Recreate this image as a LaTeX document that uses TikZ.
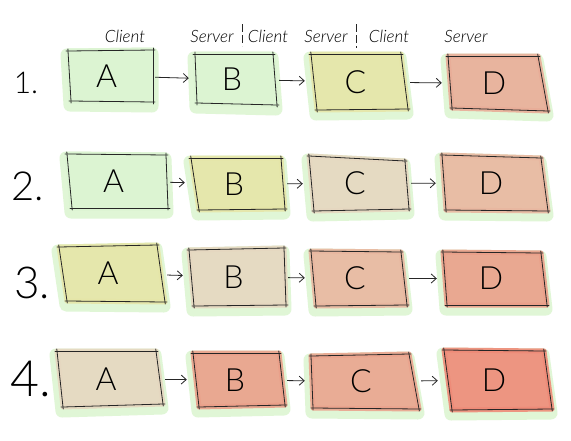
\documentclass[tikz,border=0pt]{standalone}
\usepackage{fontspec}
\newfontfamily\thinfont{Lato Light}
\usetikzlibrary{arrows.meta,fit,calc}
\definecolor{cgreen}{HTML}{DCF4D2}
\definecolor{cyellow}{HTML}{E6E6A8}
\definecolor{cbeige}{HTML}{E6D7C0}
\definecolor{csalmonl}{HTML}{E9B7A0}
\definecolor{csalmonA}{HTML}{E9AD98}
\definecolor{csalmon}{HTML}{EBA08A}
\definecolor{csalmonB}{HTML}{EBA48E}
\definecolor{cred}{HTML}{EF8B78}
\definecolor{chalo}{HTML}{E0F6D6}
\tikzset{
 edge/.style={draw=black!85, line width=0.8pt, line cap=round, shorten <=-2pt, shorten >=-2pt},
 halo/.style={draw=chalo, fill=chalo, line width=13pt, line join=round},
 wash/.style={line width=5pt, line join=round, opacity=0.9},
 letter/.style={font=\thinfont\fontsize{32}{32}\selectfont, inner sep=0pt},
 frame/.style={inner sep=0pt},
 arr/.style={draw=black!85, line width=0.8pt, -{Straight Barb[length=5pt,width=9pt]}, shorten <=2pt, shorten >=6pt},
 num/.style={font=\thinfont\fontsize{#1}{#1}\selectfont, inner sep=0pt, anchor=base},
 head/.style={font=\thinfont\itshape\fontsize{17}{17}\selectfont, inner sep=0pt, anchor=base},
 sepline/.style={draw=black!85, line width=0.8pt, dash pattern=on 8pt off 3pt},
}
% #1 name, #2 colour, #3 TL, #4 TR, #5 BR, #6 BL, #7 letter
\newcommand\skbox[7]{%
 \path[halo, shift={(-1,4)}] (#3) -- (#4) -- (#5) -- (#6) -- cycle;
 \path[wash, fill=#2, draw=#2] (#3) -- (#4) -- (#5) -- (#6) -- cycle;
 \coordinate (#1-tl) at (#3);
 \coordinate (#1-tr) at (#4);
 \coordinate (#1-br) at (#5);
 \coordinate (#1-bl) at (#6);
 \draw[edge] (#1-tl) -- (#1-tr);
 \draw[edge] (#1-tr) -- (#1-br);
 \draw[edge] (#1-br) -- (#1-bl);
 \draw[edge] (#1-bl) -- (#1-tl);
 \node[fit=(#1-tl)(#1-tr)(#1-br)(#1-bl), frame] (#1) {};
 \node[letter] (#1-txt) at ([xshift=-4pt]#1.center) {#7};
}
\begin{document}
\begin{tikzpicture}[x=1pt,y=-1pt]
\fill[white] (0,0) rectangle (571,440);
\useasboundingbox (0,0) rectangle (571,440);

% header
\node[head] (h1) at (125,42) {Client};
\node[head] (h2) at (212,42) {Server};
\node[head] (h3) at (268,42) {Client};
\node[head] (h4) at (326,42) {Server};
\node[head] (h5) at (389,42) {Client};
\node[head] (h6) at (466,42) {Server};
\coordinate (s1a) at (242,24); \coordinate (s1b) at (242,46);
\coordinate (s2a) at (356,24); \coordinate (s2b) at (356,48);
\draw[sepline] (s1a) -- (s1b);
\draw[sepline] (s2a) -- (s2b);

% row numbers
\node[num=30] (n1) at (26,93) {1.};
\node[num=40] (n2) at (28,200) {2.};
\node[num=44] (n3) at (32,298) {3.};
\node[num=50] (n4) at (31,396) {4.};

% row 1
\skbox{A1}{cgreen}{68,51}{153,50}{153,102}{71,101}{A}
\skbox{B1}{cgreen}{195,54}{273,54}{277,105}{197,103}{B}
\skbox{C1}{cyellow}{311,54}{401,54}{408,109}{317,110}{C}
\skbox{D1}{csalmonA}{448,56}{538,56}{548,111}{452,108}{D}
% row 2
\skbox{A2}{cgreen}{67,154}{166,155}{168,208}{72,208}{A}
\skbox{B2}{cyellow}{191,158}{281,158}{285,209}{199,210}{B}
\skbox{C2}{cbeige}{309,156}{405,161}{409,209}{314,211}{C}
\skbox{D2}{csalmonl}{442,155}{541,158}{548,211}{446,210}{D}
% row 3
\skbox{A3}{cyellow}{59,247}{157,245}{165,302}{67,301}{A}
\skbox{B3}{cbeige}{189,250}{284,248}{286,305}{194,306}{B}
\skbox{C3}{csalmonl}{311,251}{401,252}{407,305}{316,306}{C}
\skbox{D3}{csalmon}{443,252}{541,253}{547,305}{447,305}{D}
% row 4
\skbox{A4}{cbeige}{57,351}{156,351}{163,404}{63,407}{A}
\skbox{B4}{csalmon}{193,353}{279,353}{285,405}{199,407}{B}
\skbox{C4}{csalmonB}{311,356}{409,354}{419,409}{313,408}{C}
\skbox{D4}{cred}{444,350}{544,351}{552,409}{452,410}{D}

% arrows
\foreach \r in {1,2,3,4}{
 \draw[arr] (A\r) -- (B\r);
 \draw[arr] (B\r) -- (C\r);
 \draw[arr] (C\r) -- (D\r);
}
\end{tikzpicture}
\end{document}
